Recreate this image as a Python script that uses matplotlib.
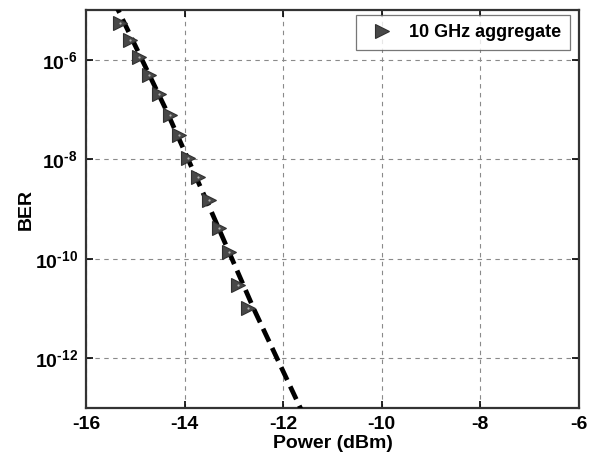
import matplotlib
matplotlib.use("Agg")
import matplotlib.pyplot as plt
import numpy as np

plt.rcParams['font.family'] = ['Liberation Sans', 'DejaVu Sans']
plt.rcParams['font.weight'] = 'bold'
plt.rcParams['mathtext.fontset'] = 'custom'
plt.rcParams['mathtext.rm'] = 'Liberation Sans:bold'
plt.rcParams['mathtext.bf'] = 'Liberation Sans:bold'
plt.rcParams['mathtext.it'] = 'Liberation Sans:bold'

# Measured points (10 GHz aggregate)
power_meas = [-15.31, -15.11, -14.92, -14.72, -14.52, -14.29, -14.11,
              -13.93, -13.72, -13.50, -13.30, -13.11, -12.91, -12.71]
ber_exp_meas = [-5.26, -5.60, -5.95, -6.31, -6.69, -7.11, -7.52,
                -7.98, -8.36, -8.82, -9.39, -9.87, -10.53, -10.99]

# Fitted (dashed) curve
power_fit = [-15.45, -15.35, -14.38, -13.48, -12.60, -11.65, -11.60]
ber_exp_fit = [-4.8, -5.0, -7.0, -9.0, -11.0, -13.0, -13.1]

xticks = [-16, -14, -12, -10, -8, -6]
xtick_labels = ['-16', '-14', '-12', '-10', '-8', '-6']
yticks_exp = [-6, -8, -10, -12]
ytick_labels = [r'$10^{\text{-6}}$', r'$10^{\text{-8}}$',
                r'$10^{\text{-10}}$', r'$10^{\text{-12}}$']

legend_label = '10 GHz aggregate'
xlabel = 'Power (dBm)'
ylabel = 'BER'

fig = plt.figure(figsize=(5.9, 4.57), dpi=100)
ax = fig.add_axes([0.146, 0.107, 0.835, 0.871])

ax.set_yscale('log')
ax.plot(power_fit, 10.0 ** np.array(ber_exp_fit), color='black', lw=3.4,
        ls=(0, (3.0, 1.5)), zorder=3)
ax.plot(power_meas, 10.0 ** np.array(ber_exp_meas), ls='none', marker='>',
        markersize=9.5, markerfacecolor='#484848', markeredgecolor='#303030',
        markeredgewidth=0.8, label=legend_label, zorder=4)
ax.plot(power_meas, 10.0 ** np.array(ber_exp_meas), ls='none', marker='o',
        markersize=1.6, markerfacecolor='#b0b0b0', markeredgewidth=0,
        zorder=5)

ax.set_xlim(-16, -6)
ax.set_ylim(1e-13, 1e-5)
ax.set_xticks(xticks)
ax.set_xticklabels(xtick_labels)
ax.set_yticks([10.0 ** e for e in yticks_exp])
ax.set_yticklabels(ytick_labels)
ax.yaxis.set_minor_locator(matplotlib.ticker.NullLocator())

ax.tick_params(axis='both', direction='in', length=5, width=1.2,
               labelsize=14, pad=6, top=True, right=True)
for lab in ax.get_xticklabels():
    lab.set_fontweight('bold')

ax.grid(True, which='major', ls=(0, (4, 4)), color='#8a8a8a', lw=0.8)
for s in ax.spines.values():
    s.set_linewidth(1.6)
    s.set_color('#333333')

ax.set_xlabel(xlabel, fontsize=14, fontweight='bold', labelpad=1)
ax.set_ylabel(ylabel, fontsize=14, fontweight='bold')
ax.yaxis.set_label_coords(-0.105, 0.5)

leg = ax.legend(loc='upper right', fontsize=13, frameon=True, fancybox=False,
                edgecolor='#555555', borderpad=0.5, handletextpad=0.6,
                handlelength=1.8, borderaxespad=0,
                bbox_to_anchor=(0.982, 0.987))
leg.get_frame().set_linewidth(0.9)
for t in leg.get_texts():
    t.set_fontweight('bold')

fig.savefig('out.png', dpi=100)
